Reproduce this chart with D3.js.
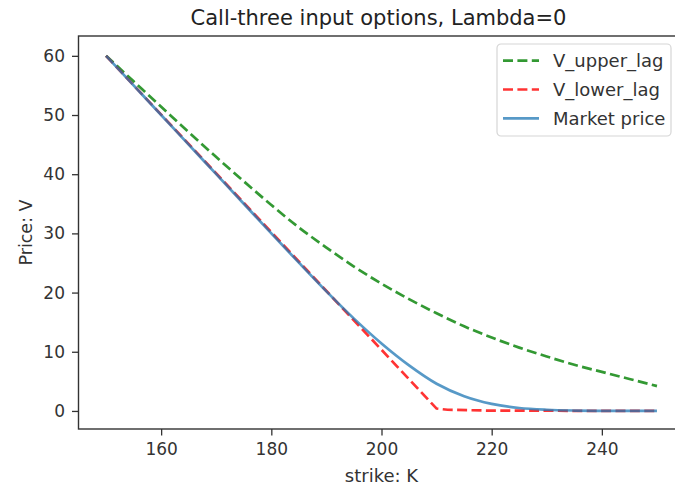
<!DOCTYPE html>
<html>
<head>
<meta charset="utf-8">
<script src="https://cdn.jsdelivr.net/npm/d3@7"></script>
<style>
  html, body { margin: 0; padding: 0; background: #fff; }
  svg { display: block; font-family: "DejaVu Sans", sans-serif; }
</style>
</head>
<body>
<svg id="chart" width="675" height="486"></svg>
<script>
// Strikes and the three price curves
const strikes      = [150, 155, 160, 165, 170, 175, 180, 185, 190, 195, 200, 205, 210, 215, 220, 225, 230, 235, 240, 245, 250];
const vUpperLag    = [60.0, 55.7, 51.4, 47.1, 42.9, 38.8, 34.8, 31.0, 27.6, 24.4, 21.5, 18.9, 16.5, 14.3, 12.4, 10.7, 9.2, 7.8, 6.6, 5.4, 4.2];
const marketPrice  = [60.0, 55.0, 50.0, 45.0, 40.0, 35.0, 30.0, 25.05, 20.2, 15.6, 11.4, 7.7, 4.6, 2.5, 1.2, 0.5, 0.2, 0.07, 0.02, 0.0, 0.0];
// Lower bound: linear down to the kink, then flat
const lowerStrikes = [150, 210, 212, 220, 250];
const vLowerLag    = [60.0, 0.4, 0.2, 0.05, 0.0];

const xTicks = [160, 180, 200, 220, 240];
const yTicks = [0, 10, 20, 30, 40, 50, 60];

const svg = d3.select("#chart");
const plot = { left: 78.5, right: 684.5, top: 36, bottom: 429 };

const x = d3.scaleLinear().domain([145, 255]).range([plot.left, plot.right]);
const y = d3.scaleLinear().domain([-3.05, 63.35]).range([plot.bottom, plot.top]);

// Axes
const xAxis = svg.append("g")
  .attr("transform", `translate(0,${plot.bottom})`)
  .call(d3.axisBottom(x).tickValues(xTicks).tickSize(6.5).tickPadding(7).tickSizeOuter(0));
const yAxis = svg.append("g")
  .attr("transform", `translate(${plot.left},0)`)
  .call(d3.axisLeft(y).tickValues(yTicks).tickSize(6.5).tickPadding(7).tickSizeOuter(0));

[xAxis, yAxis].forEach(g => {
  g.select(".domain").remove();
  g.selectAll(".tick line").attr("stroke", "#333").attr("stroke-width", 1.3);
  g.selectAll(".tick text").attr("fill", "#333").style("font-size", "17px").style("font-family", "DejaVu Sans");
});

// Frame
svg.append("rect")
  .attr("x", plot.left).attr("y", plot.top)
  .attr("width", plot.right - plot.left).attr("height", plot.bottom - plot.top)
  .attr("fill", "none").attr("stroke", "#333").attr("stroke-width", 1.4);

// Curves
const plotArea = svg.append("g");
const smooth = d3.line().x(d => x(d[0])).y(d => y(d[1])).curve(d3.curveMonotoneX);
const straight = d3.line().x(d => x(d[0])).y(d => y(d[1]));

plotArea.append("path")
  .datum(d3.zip(strikes, vUpperLag))
  .attr("d", smooth)
  .attr("fill", "none").attr("stroke", "#008000").attr("stroke-opacity", 0.8)
  .attr("stroke-width", 2.7).attr("stroke-dasharray", "10,4.4");

plotArea.append("path")
  .datum(d3.zip(lowerStrikes, vLowerLag))
  .attr("d", straight)
  .attr("fill", "none").attr("stroke", "#ff0000").attr("stroke-opacity", 0.8)
  .attr("stroke-width", 2.7).attr("stroke-dasharray", "10,4.4");

plotArea.append("path")
  .datum(d3.zip(strikes, marketPrice))
  .attr("d", smooth)
  .attr("fill", "none").attr("stroke", "#1f77b4").attr("stroke-opacity", 0.75)
  .attr("stroke-width", 2.7);

// Title and axis labels
svg.append("text")
  .attr("x", (plot.left + plot.right) / 2 - 3).attr("y", 25)
  .attr("text-anchor", "middle").attr("fill", "#222")
  .style("font-size", "21px")
  .text("Call-three input options, Lambda=0");

svg.append("text")
  .attr("x", x(200)).attr("y", 481.5)
  .attr("text-anchor", "middle").attr("fill", "#333")
  .style("font-size", "18px")
  .text("strike: K");

svg.append("text")
  .attr("transform", `translate(31.5,${(plot.top + plot.bottom) / 2}) rotate(-90)`)
  .attr("text-anchor", "middle").attr("fill", "#333")
  .style("font-size", "17.5px")
  .text("Price: V");

// Legend
const legendItems = [
  { label: "V_upper_lag", color: "#008000", opacity: 0.8, dash: "10,4.4" },
  { label: "V_lower_lag", color: "#ff0000", opacity: 0.8, dash: "10,4.4" },
  { label: "Market price", color: "#1f77b4", opacity: 0.75, dash: null }
];
const legend = svg.append("g").attr("transform", "translate(497,44)");
legend.append("rect")
  .attr("width", 174).attr("height", 92).attr("rx", 4)
  .attr("fill", "#fff").attr("fill-opacity", 0.8)
  .attr("stroke", "#d6d6d6").attr("stroke-width", 1.2);
legendItems.forEach((d, i) => {
  const row = legend.append("g").attr("transform", `translate(0,${16.7 + i * 28.8})`);
  row.append("line")
    .attr("x1", 6).attr("x2", 42)
    .attr("stroke", d.color).attr("stroke-opacity", d.opacity)
    .attr("stroke-width", 2.7)
    .attr("stroke-dasharray", d.dash);
  row.append("text")
    .attr("x", 56).attr("y", 6.5)
    .attr("fill", "#333").style("font-size", "18px")
    .text(d.label);
});
</script>
</body>
</html>
